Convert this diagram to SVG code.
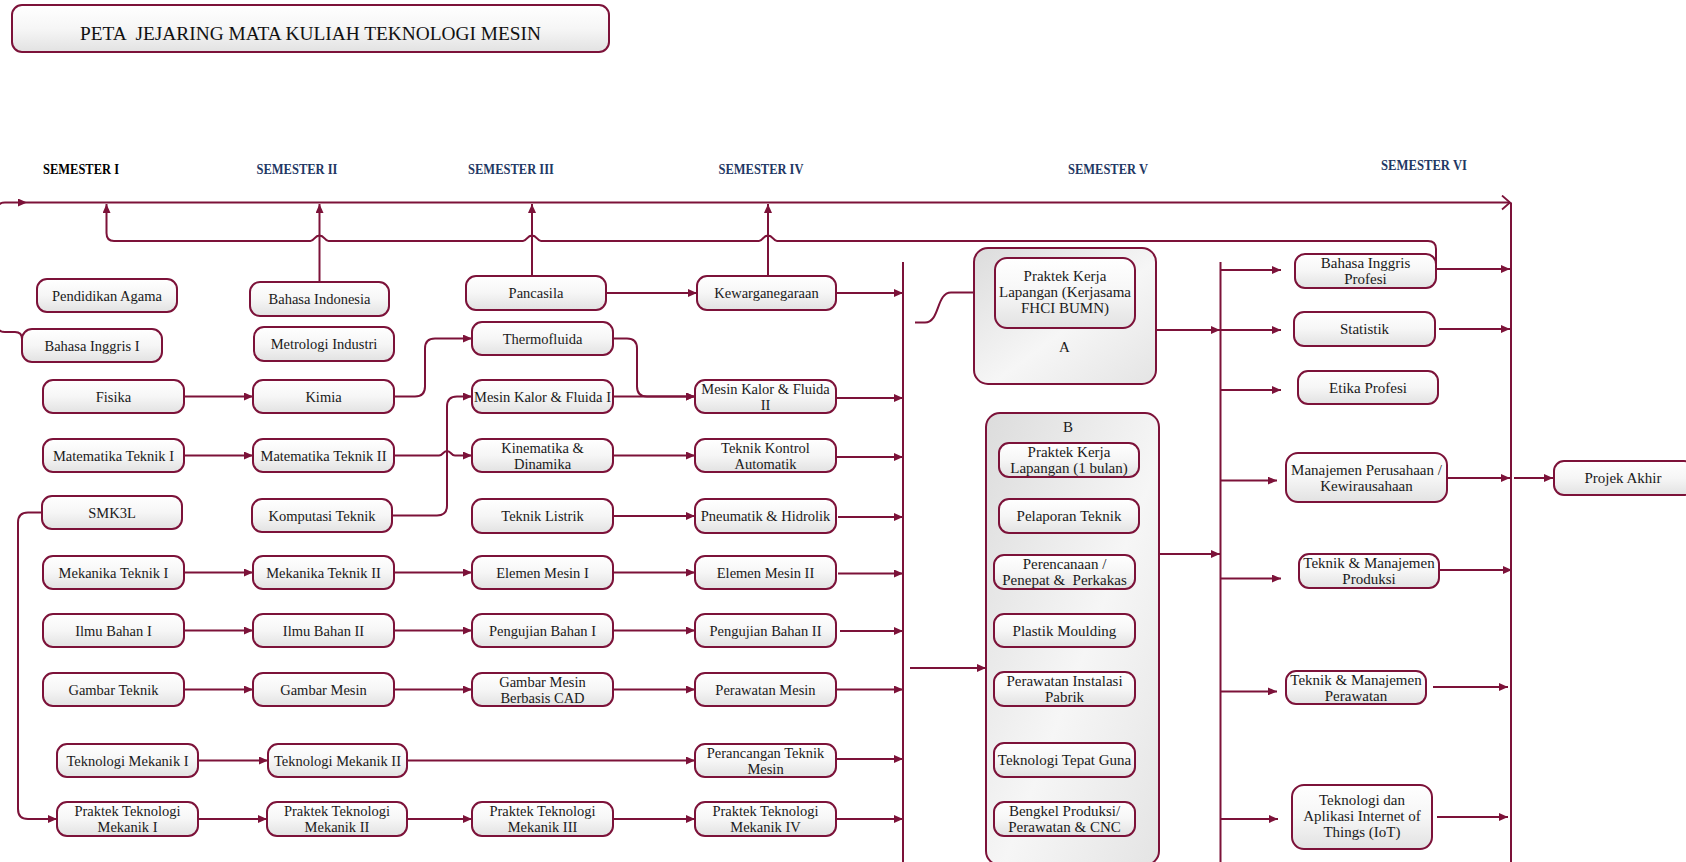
<svg xmlns="http://www.w3.org/2000/svg" width="1686" height="862" viewBox="0 0 1686 862">
<defs>
<linearGradient id="gb" x1="0" y1="0" x2="0" y2="1">
<stop offset="0" stop-color="#FFFFFF"/><stop offset="0.5" stop-color="#F6F6F6"/><stop offset="1" stop-color="#E2E2E2"/>
</linearGradient>
<linearGradient id="gc" x1="0" y1="0" x2="1" y2="1">
<stop offset="0" stop-color="#DCDCDC"/><stop offset="0.55" stop-color="#F6F6F6"/><stop offset="1" stop-color="#E4E4E4"/>
</linearGradient>
<marker id="ah" markerUnits="userSpaceOnUse" markerWidth="9" markerHeight="8" viewBox="0 0 9 8" refX="9" refY="4" orient="auto">
<path d="M0,0 L9,4 L0,8 z" fill="#7C1239"/>
</marker>
<marker id="oh" markerUnits="userSpaceOnUse" markerWidth="12" markerHeight="16" viewBox="0 0 12 16" refX="10" refY="8" orient="auto">
<path d="M2,1 L10,8 L2,15" fill="none" stroke="#7C1239" stroke-width="1.8"/>
</marker>
<style>
.b{fill:url(#gb);stroke:#7C1239;stroke-width:2}
.c{fill:url(#gc);stroke:#7C1239;stroke-width:2}
.t{font-family:"Liberation Serif","DejaVu Serif",serif;font-size:14.5px;fill:#1A1A1A;text-anchor:middle}
.r{font-size:15px}
.h{font-family:"Liberation Serif","DejaVu Serif",serif;font-size:14px;font-weight:bold;fill:#1F3864;text-anchor:middle}
.k{fill:#000}
.l{fill:none;stroke:#7C1239;stroke-width:2}
.a{marker-end:url(#ah)}
</style>
</defs>

<g id="title">
<rect class="b" x="12" y="5" width="597" height="47" rx="10"/>
<text x="310.5" y="40" style="font-family:'Liberation Serif','DejaVu Serif',serif;font-size:19px;fill:#111;text-anchor:middle" textLength="461" lengthAdjust="spacingAndGlyphs" xml:space="preserve">PETA  JEJARING MATA KULIAH TEKNOLOGI MESIN</text>
</g>

<g id="headers">
<text class="h k" x="81" y="174" textLength="76" lengthAdjust="spacingAndGlyphs">SEMESTER I</text>
<text class="h" x="297" y="174" textLength="81" lengthAdjust="spacingAndGlyphs">SEMESTER II</text>
<text class="h" x="511" y="174" textLength="86" lengthAdjust="spacingAndGlyphs">SEMESTER III</text>
<text class="h" x="761" y="174" textLength="85" lengthAdjust="spacingAndGlyphs">SEMESTER IV</text>
<text class="h" x="1108" y="174" textLength="80" lengthAdjust="spacingAndGlyphs">SEMESTER V</text>
<text class="h" x="1424" y="170" textLength="86" lengthAdjust="spacingAndGlyphs">SEMESTER VI</text>
</g>

<g id="connectors">
<path class="l a" d="M22 345 V339 Q22 332 15 332 H5 Q-3 332 -3 324 V210 Q-3 202.5 5 202.5 H27"/>
<path class="l" d="M27 202.5 H1510" marker-end="url(#oh)"/>
<path class="l a" d="M1436 275 V249 Q1436 241 1428 241 H777 C773 241 773 235.5 768 235.5 C763 235.5 763 241 759 241 H541 C537 241 537 235.5 532 235.5 C527 235.5 527 241 523 241 H328.5 C324.5 241 324.5 235.5 319.5 235.5 C314.5 235.5 314.5 241 310.5 241 H114 Q106.5 241 106.5 233 V204"/>
<path class="l a" d="M319.5 282 V204"/>
<path class="l a" d="M532 276 V204"/>
<path class="l a" d="M768 276 V204"/>
<path class="l a" d="M606 293 H697"/>
<path class="l a" d="M836 293 H903"/>
<path class="l a" d="M184 396.5 H253"/>
<path class="l a" d="M394 396.5 H415 Q425 396.5 425 386.5 V348.5 Q425 338.5 435 338.5 H472"/>
<path class="l a" d="M613 338.5 H627 Q637 338.5 637 348.5 V386.5 Q637 396.5 647 396.5 H695"/>
<path class="l a" d="M613 396.5 H695"/>
<path class="l a" d="M837 398 H903"/>
<path class="l a" d="M184 455.5 H253"/>
<path class="l a" d="M394 455.5 H439 C443 455.5 443 451 447 451 C451 451 451 455.5 455 455.5 H472"/>
<path class="l a" d="M392 515.5 H437 Q447 515.5 447 505.5 V406.5 Q447 396.5 457 396.5 H472"/>
<path class="l a" d="M613 455.5 H695"/>
<path class="l a" d="M837 457 H903"/>
<path class="l a" d="M613 516 H695"/>
<path class="l a" d="M838 517 H903"/>
<path class="l a" d="M184 572.5 H253"/>
<path class="l a" d="M394 572.5 H472"/>
<path class="l a" d="M613 572.5 H695"/>
<path class="l a" d="M838 573.5 H903"/>
<path class="l a" d="M184 630.5 H253"/>
<path class="l a" d="M394 630.5 H472"/>
<path class="l a" d="M613 630.5 H695"/>
<path class="l a" d="M840 631 H903"/>
<path class="l a" d="M184 689.5 H253"/>
<path class="l a" d="M394 689.5 H472"/>
<path class="l a" d="M613 689.5 H695"/>
<path class="l a" d="M837 689.5 H903"/>
<path class="l a" d="M198 760.5 H268"/>
<path class="l a" d="M407 760.5 H695"/>
<path class="l a" d="M837 759 H903"/>
<path class="l a" d="M198 819 H267"/>
<path class="l a" d="M407 819 H472"/>
<path class="l a" d="M613 819 H695"/>
<path class="l a" d="M837 819 H903"/>
<path class="l a" d="M42 512.5 H28 Q18 512.5 18 522.5 V809 Q18 819 28 819 H57"/>
<path class="l" d="M903 262 V862"/>
<path class="l a" d="M910 668 H986"/>
<path class="l a" d="M915 322.6 H925 C940 322.6 936 292.5 951 292.5 H995"/>
<path class="l a" d="M1156 330 H1220"/>
<path class="l a" d="M1159 554 H1220"/>
<path class="l" d="M1220.5 262 V862"/>
<path class="l a" d="M1220.5 270 H1281"/>
<path class="l a" d="M1220.5 330 H1281"/>
<path class="l a" d="M1220.5 390 H1281"/>
<path class="l a" d="M1220.5 480.6 H1277"/>
<path class="l a" d="M1220.5 578.5 H1281"/>
<path class="l a" d="M1220.5 691.4 H1277"/>
<path class="l a" d="M1220.5 819 H1278"/>
<path class="l a" d="M1436 269 H1510"/>
<path class="l a" d="M1439 329 H1510"/>
<path class="l a" d="M1447 478 H1510"/>
<path class="l a" d="M1439 570 H1512"/>
<path class="l a" d="M1433 687 H1508"/>
<path class="l a" d="M1437 817 H1508"/>
<path class="l" d="M1511 202.5 V862"/>
<path class="l a" d="M1514 478 H1553"/>
</g>

<g id="pendidikan-agama"><rect class="b" x="37" y="279" width="140" height="33" rx="10"/><text class="t" x="107" y="300.5">Pendidikan Agama</text></g>
<g id="bahasa-inggris-1"><rect class="b" x="22" y="329" width="140" height="33" rx="10"/><text class="t" x="92" y="350.5">Bahasa Inggris I</text></g>
<g id="fisika"><rect class="b" x="43" y="380" width="141" height="33" rx="10"/><text class="t" x="113.5" y="401.5">Fisika</text></g>
<g id="matematika-1"><rect class="b" x="43" y="439" width="141" height="33" rx="10"/><text class="t" x="113.5" y="460.5">Matematika Teknik I</text></g>
<g id="smk3l"><rect class="b" x="42" y="496" width="140" height="33" rx="10"/><text class="t" x="112" y="517.5">SMK3L</text></g>
<g id="mekanika-1"><rect class="b" x="43" y="556" width="141" height="33" rx="10"/><text class="t" x="113.5" y="577.5">Mekanika Teknik I</text></g>
<g id="ilmu-bahan-1"><rect class="b" x="43" y="614" width="141" height="33" rx="10"/><text class="t" x="113.5" y="635.5">Ilmu Bahan I</text></g>
<g id="gambar-teknik"><rect class="b" x="43" y="673" width="141" height="33" rx="10"/><text class="t" x="113.5" y="694.5">Gambar Teknik</text></g>
<g id="teknologi-mekanik-1"><rect class="b" x="57" y="744" width="141" height="33" rx="10"/><text class="t" x="127.5" y="765.5">Teknologi Mekanik I</text></g>
<g id="praktek-tm-1"><rect class="b" x="57" y="802" width="141" height="34" rx="10"/><text class="t" x="127.5" y="816">Praktek Teknologi</text><text class="t" x="127.5" y="832">Mekanik I</text></g>

<g id="bahasa-indonesia"><rect class="b" x="250" y="282" width="139" height="34" rx="10"/><text class="t" x="319.5" y="304">Bahasa Indonesia</text></g>
<g id="metrologi-industri"><rect class="b" x="254" y="327" width="140" height="34" rx="10"/><text class="t" x="324" y="349">Metrologi Industri</text></g>
<g id="kimia"><rect class="b" x="253" y="380" width="141" height="33" rx="10"/><text class="t" x="323.5" y="401.5">Kimia</text></g>
<g id="matematika-2"><rect class="b" x="253" y="439" width="141" height="33" rx="10"/><text class="t" x="323.5" y="460.5">Matematika Teknik II</text></g>
<g id="komputasi-teknik"><rect class="b" x="252" y="499" width="140" height="33" rx="10"/><text class="t" x="322" y="520.5">Komputasi Teknik</text></g>
<g id="mekanika-2"><rect class="b" x="253" y="556" width="141" height="33" rx="10"/><text class="t" x="323.5" y="577.5">Mekanika Teknik II</text></g>
<g id="ilmu-bahan-2"><rect class="b" x="253" y="614" width="141" height="33" rx="10"/><text class="t" x="323.5" y="635.5">Ilmu Bahan II</text></g>
<g id="gambar-mesin"><rect class="b" x="253" y="673" width="141" height="33" rx="10"/><text class="t" x="323.5" y="694.5">Gambar Mesin</text></g>
<g id="teknologi-mekanik-2"><rect class="b" x="268" y="744" width="139" height="33" rx="10"/><text class="t" x="337.5" y="765.5">Teknologi Mekanik II</text></g>
<g id="praktek-tm-2"><rect class="b" x="267" y="802" width="140" height="34" rx="10"/><text class="t" x="337" y="816">Praktek Teknologi</text><text class="t" x="337" y="832">Mekanik II</text></g>

<g id="pancasila"><rect class="b" x="466" y="276" width="140" height="34" rx="10"/><text class="t" x="536" y="298">Pancasila</text></g>
<g id="thermofluida"><rect class="b" x="472" y="322" width="141" height="33" rx="10"/><text class="t" x="542.5" y="343.5">Thermofluida</text></g>
<g id="mesin-kalor-1"><rect class="b" x="472" y="380" width="141" height="33" rx="10"/><text class="t" x="542.5" y="401.5">Mesin Kalor &amp; Fluida I</text></g>
<g id="kinematika"><rect class="b" x="472" y="439" width="141" height="33" rx="10"/><text class="t" x="542.5" y="452.5">Kinematika &amp;</text><text class="t" x="542.5" y="468.5">Dinamika</text></g>
<g id="teknik-listrik"><rect class="b" x="472" y="499" width="141" height="34" rx="10"/><text class="t" x="542.5" y="521">Teknik Listrik</text></g>
<g id="elemen-mesin-1"><rect class="b" x="472" y="556" width="141" height="33" rx="10"/><text class="t" x="542.5" y="577.5">Elemen Mesin I</text></g>
<g id="pengujian-bahan-1"><rect class="b" x="472" y="614" width="141" height="33" rx="10"/><text class="t" x="542.5" y="635.5">Pengujian Bahan I</text></g>
<g id="gambar-mesin-cad"><rect class="b" x="472" y="673" width="141" height="33" rx="10"/><text class="t" x="542.5" y="686.5">Gambar Mesin</text><text class="t" x="542.5" y="702.5">Berbasis CAD</text></g>
<g id="praktek-tm-3"><rect class="b" x="472" y="802" width="141" height="34" rx="10"/><text class="t" x="542.5" y="816">Praktek Teknologi</text><text class="t" x="542.5" y="832">Mekanik III</text></g>

<g id="kewarganegaraan"><rect class="b" x="697" y="276" width="139" height="34" rx="10"/><text class="t" x="766.5" y="298">Kewarganegaraan</text></g>
<g id="mesin-kalor-2"><rect class="b" x="695" y="380" width="141" height="33" rx="10"/><text class="t" x="765.5" y="393.5">Mesin Kalor &amp; Fluida</text><text class="t" x="765.5" y="409.5">II</text></g>
<g id="teknik-kontrol"><rect class="b" x="695" y="439" width="141" height="33" rx="10"/><text class="t" x="765.5" y="452.5">Teknik Kontrol</text><text class="t" x="765.5" y="468.5">Automatik</text></g>
<g id="pneumatik"><rect class="b" x="695" y="499" width="141" height="34" rx="10"/><text class="t" x="765.5" y="521">Pneumatik &amp; Hidrolik</text></g>
<g id="elemen-mesin-2"><rect class="b" x="695" y="556" width="141" height="33" rx="10"/><text class="t" x="765.5" y="577.5">Elemen Mesin II</text></g>
<g id="pengujian-bahan-2"><rect class="b" x="695" y="614" width="141" height="33" rx="10"/><text class="t" x="765.5" y="635.5">Pengujian Bahan II</text></g>
<g id="perawatan-mesin"><rect class="b" x="695" y="673" width="141" height="33" rx="10"/><text class="t" x="765.5" y="694.5">Perawatan Mesin</text></g>
<g id="perancangan"><rect class="b" x="695" y="744" width="141" height="33" rx="10"/><text class="t" x="765.5" y="757.5">Perancangan Teknik</text><text class="t" x="765.5" y="773.5">Mesin</text></g>
<g id="praktek-tm-4"><rect class="b" x="695" y="802" width="141" height="34" rx="10"/><text class="t" x="765.5" y="816">Praktek Teknologi</text><text class="t" x="765.5" y="832">Mekanik IV</text></g>

<g id="group-a"><rect class="c" x="974" y="248" width="182" height="136" rx="14"/><text class="t r" x="1064.5" y="352">A</text></g>
<g id="pkl-fhci"><rect class="b" x="995" y="258" width="140" height="70" rx="12"/><text class="t r" x="1065" y="281">Praktek Kerja</text><text class="t r" x="1065" y="297">Lapangan (Kerjasama</text><text class="t r" x="1065" y="313">FHCI BUMN)</text></g>

<g id="group-b"><rect class="c" x="986" y="413" width="173" height="452" rx="14"/><text class="t r" x="1068" y="432">B</text></g>
<g id="pkl-1-bulan"><rect class="b" x="999" y="443" width="140" height="34" rx="10"/><text class="t r" x="1069" y="457">Praktek Kerja</text><text class="t r" x="1069" y="473">Lapangan (1 bulan)</text></g>
<g id="pelaporan-teknik"><rect class="b" x="999" y="499" width="140" height="34" rx="10"/><text class="t r" x="1069" y="521">Pelaporan Teknik</text></g>
<g id="perencanaan"><rect class="b" x="994" y="555" width="141" height="34" rx="10"/><text class="t r" x="1064.5" y="569">Perencanaan /</text><text class="t r" x="1064.5" y="585" xml:space="preserve">Penepat &amp;  Perkakas</text></g>
<g id="plastik-moulding"><rect class="b" x="994" y="614" width="141" height="33" rx="10"/><text class="t r" x="1064.5" y="635.5">Plastik Moulding</text></g>
<g id="perawatan-instalasi"><rect class="b" x="994" y="672" width="141" height="34" rx="10"/><text class="t r" x="1064.5" y="686">Perawatan Instalasi</text><text class="t r" x="1064.5" y="702">Pabrik</text></g>
<g id="teknologi-tepat-guna"><rect class="b" x="994" y="743" width="141" height="34" rx="10"/><text class="t r" x="1064.5" y="765">Teknologi Tepat Guna</text></g>
<g id="bengkel-produksi"><rect class="b" x="994" y="802" width="141" height="34" rx="10"/><text class="t r" x="1064.5" y="816">Bengkel Produksi/</text><text class="t r" x="1064.5" y="832">Perawatan &amp; CNC</text></g>

<g id="bahasa-inggris-profesi"><rect class="b" x="1295" y="254" width="141" height="34" rx="10"/><text class="t r" x="1365.5" y="268">Bahasa Inggris</text><text class="t r" x="1365.5" y="284">Profesi</text></g>
<g id="statistik"><rect class="b" x="1294" y="312" width="141" height="34" rx="10"/><text class="t r" x="1364.5" y="334">Statistik</text></g>
<g id="etika-profesi"><rect class="b" x="1298" y="371" width="140" height="33" rx="10"/><text class="t r" x="1368" y="392.5">Etika Profesi</text></g>
<g id="manajemen-perusahaan"><rect class="b" x="1286" y="453" width="161" height="49" rx="12"/><text class="t r" x="1366.5" y="474.5">Manajemen Perusahaan /</text><text class="t r" x="1366.5" y="490.5">Kewirausahaan</text></g>
<g id="teknik-manajemen-produksi"><rect class="b" x="1299" y="554" width="140" height="34" rx="10"/><text class="t r" x="1369" y="568">Teknik &amp; Manajemen</text><text class="t r" x="1369" y="584">Produksi</text></g>
<g id="teknik-manajemen-perawatan"><rect class="b" x="1286" y="671" width="140" height="33" rx="10"/><text class="t r" x="1356" y="684.5">Teknik &amp; Manajemen</text><text class="t r" x="1356" y="700.5">Perawatan</text></g>
<g id="iot"><rect class="b" x="1292" y="785" width="140" height="64" rx="12"/><text class="t r" x="1362" y="805">Teknologi dan</text><text class="t r" x="1362" y="821">Aplikasi Internet of</text><text class="t r" x="1362" y="837">Things (IoT)</text></g>
<g id="projek-akhir"><rect class="b" x="1554" y="461" width="140" height="34" rx="10"/><text class="t r" x="1623" y="483">Projek Akhir</text></g>
</svg>
